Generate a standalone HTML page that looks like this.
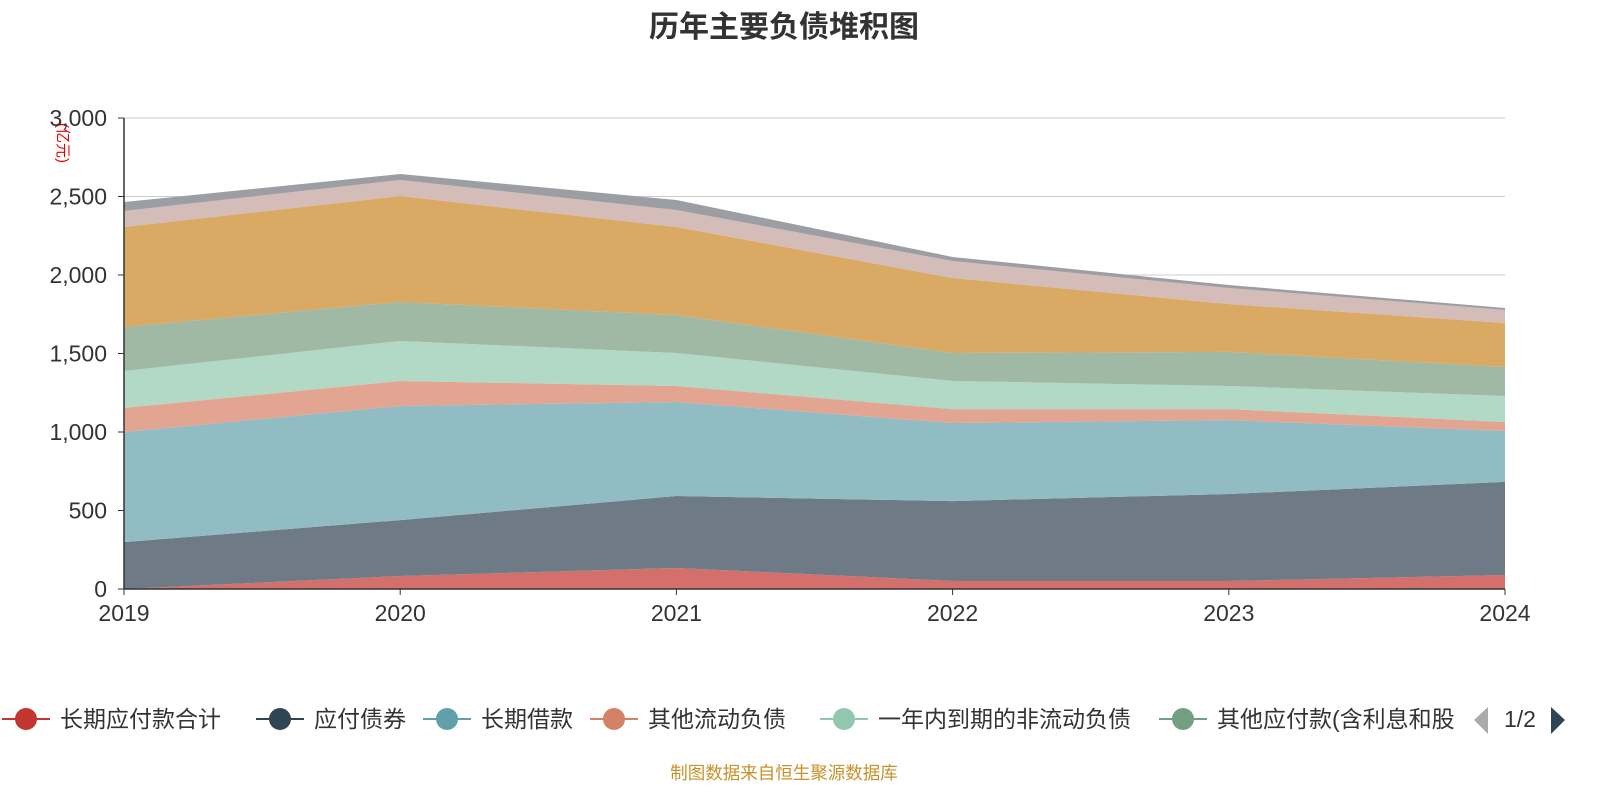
<!DOCTYPE html>
<html><head><meta charset="utf-8">
<style>
html,body{margin:0;padding:0;background:#fff;}
body{width:1600px;height:800px;overflow:hidden;font-family:"Liberation Sans","Noto Sans CJK SC",sans-serif;}
</style></head>
<body>
<svg id="chart" width="1600" height="800" xmlns="http://www.w3.org/2000/svg" font-family="Liberation Sans, Noto Sans CJK SC, sans-serif">
<text x="784" y="37" text-anchor="middle" font-size="30" font-weight="bold" fill="#333">历年主要负债堆积图</text>
<text transform="translate(58,143) rotate(90)" text-anchor="middle" font-size="15" fill="#e00">(亿元)</text>
<g id="grid"></g><g id="areas"></g><g id="axes"></g><g id="legend"></g>
<text x="784" y="779" text-anchor="middle" font-size="17.5" fill="#c8922a">制图数据来自恒生聚源数据库</text>
</svg>
<script>
const years = ['2019','2020','2021','2022','2023','2024'];
const seriesNames = ['长期应付款合计','应付债券','长期借款','其他流动负债','一年内到期的非流动负债','其他应付款(含利息和股','短期借款','应付票据及应付账款','合同负债'];
const s1 = [0, 83, 134, 51, 51, 89];
const s2 = [299, 356, 458, 509, 554, 593];
const s3 = [701, 727, 599, 497, 471, 324];
const s4 = [153, 159, 102, 89, 70, 58];
const s5 = [236, 255, 210, 179, 147, 165];
const s6 = [280, 248, 242, 178, 217, 185];
const s7 = [637, 675, 561, 478, 305, 280];
const s8 = [102, 102, 108, 108, 102, 83];
const s9 = [57, 38, 64, 26, 19, 13];
const yTicks = [0, 500, 1000, 1500, 2000, 2500, 3000];
const series = [s1,s2,s3,s4,s5,s6,s7,s8,s9];
const fills = ['#d4706c','#6e7b86','#91bcc3','#e1a592','#b2d9c6','#9fb9a4','#daa963','#d4bdb8','#9b9ea3'];
const icons = ['#c23531','#2f4554','#61a0a8','#d48265','#91c7ae','#749f83'];
const NS='http://www.w3.org/2000/svg';
const x0=124,x1=1505,y0=589,y1=118,ymax=3000;
const X=i=>x0+(x1-x0)*i/(years.length-1);
const Y=v=>y0-(y0-y1)*v/ymax;
function mk(tag,attrs,parent){const e=document.createElementNS(NS,tag);for(const k in attrs)e.setAttribute(k,attrs[k]);parent.appendChild(e);return e;}
const grid=document.getElementById('grid'),areas=document.getElementById('areas'),axes=document.getElementById('axes'),legend=document.getElementById('legend');
yTicks.forEach(t=>{
  const l=mk('line',{x1:x0,x2:x1,y1:Y(t),y2:Y(t),stroke:'#ccc','stroke-width':1},grid);
  
  
  const tx=mk('text',{x:107,y:Y(t)+8,'text-anchor':'end','font-size':23,fill:'#333'},axes);
  tx.textContent=t.toLocaleString('en-US');
  
  
  const tk=mk('line',{x1:x0-6,x2:x0,y1:Y(t),y2:Y(t),stroke:'#333'},axes);
  
  
});
let cum=years.map(()=>0);
series.forEach((s,k)=>{
  const lower=cum.slice();const upper=cum.map((c,i)=>c+s[i]);
  let d='M'+years.map((_,i)=>X(i)+','+Y(upper[i])).join(' L');
  for(let i=years.length-1;i>=0;i--)d+=' L'+X(i)+','+Y(lower[i]);
  const p=mk('path',{d:d+'Z',fill:fills[k]},areas);
  
  
  cum=upper;
});
const ax=mk('line',{x1:x0,x2:x1,y1:y0,y2:y0,stroke:'#333','stroke-width':1.5},axes);


const ay=mk('line',{x1:x0,x2:x0,y1:y1,y2:y0,stroke:'#333','stroke-width':1.5},axes);


years.forEach((yr,i)=>{
  const t=mk('text',{x:X(i),y:621,'text-anchor':'middle','font-size':23,fill:'#333'},axes);
  t.textContent=yr;
  
  
  const tk=mk('line',{x1:X(i),x2:X(i),y1:y0,y2:y0+6,stroke:'#333'},axes);
  
  
});
const legX=[2,256,423,590,820,1159];
for(let k=0;k<6;k++){
  const g=mk('g',{},legend);
  
  
  const lx=legX[k];
  mk('line',{x1:lx,x2:lx+48,y1:719,y2:719,stroke:icons[k],'stroke-width':2},g);
  mk('circle',{cx:lx+24,cy:719,r:11,fill:icons[k]},g);
  const t=mk('text',{x:lx+58,y:727,'font-size':23,fill:'#333'},g);
  t.textContent=seriesNames[k];
}
const pl=mk('path',{d:'M1488,707 L1474,720 L1488,734Z',fill:'#aaa'},legend);


const pt=mk('text',{x:1520,y:727,'text-anchor':'middle','font-size':23,fill:'#333'},legend);
pt.textContent='1/2';


const pn=mk('path',{d:'M1551,707 L1565,720 L1551,734Z',fill:'#2f4554'},legend);


</script>
</body></html>
